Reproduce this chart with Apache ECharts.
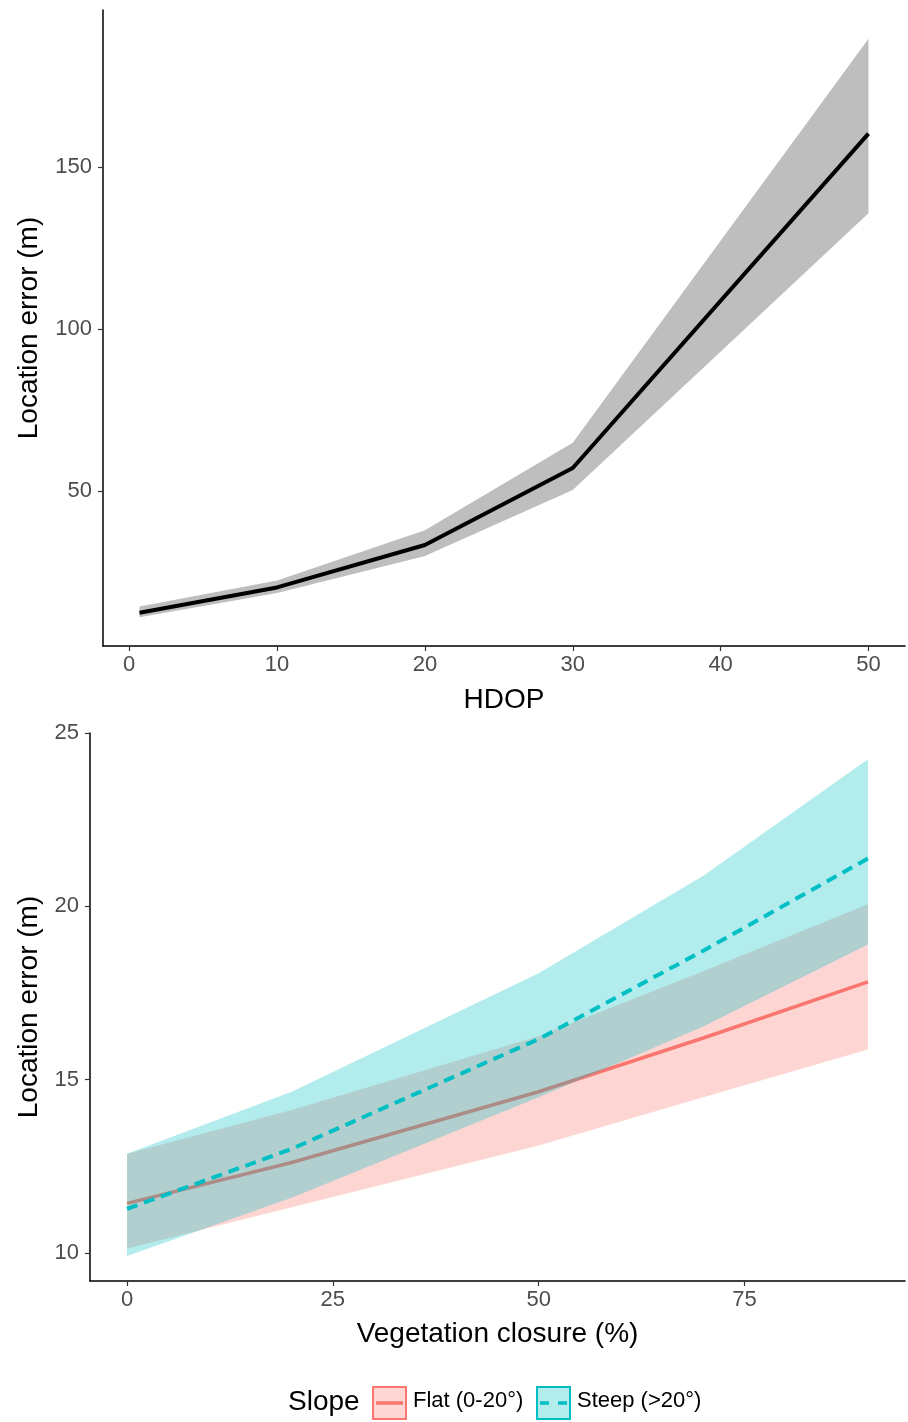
<!DOCTYPE html>
<html>
<head>
<meta charset="utf-8">
<script src="https://cdn.jsdelivr.net/npm/echarts@6/dist/echarts.min.js"></script>
<style>
  html, body { margin: 0; padding: 0; background: #fff; }
  #chart { width: 908px; height: 1422px; }
</style>
</head>
<body>
<div id="chart"></div>
<script>
// top panel: location error vs HDOP
const hdop = [0.7, 10, 20, 30, 50];
const hdopFit = [12.4, 20.2, 33.3, 57.1, 160.4];
const hdopLower = [11.0, 18.5, 29.9, 50.3, 135.8];
const hdopUpper = [14.3, 22.3, 37.9, 64.9, 189.7];
const hdopTicks = [0, 10, 20, 30, 40, 50];
const hdopErrTicks = [50, 100, 150];

// bottom panel: location error vs vegetation closure, by slope
const veg = [0, 20, 50, 70, 90];
const flatFit = [11.43, 12.61, 14.65, 16.2, 17.82];
const flatLower = [10.13, 11.32, 13.1, 14.49, 15.87];
const flatUpper = [12.86, 14.12, 16.25, 18.13, 20.06];
const steepFit = [11.27, 13.0, 16.17, 18.72, 21.38];
const steepLower = [9.91, 11.59, 14.49, 16.53, 18.9];
const steepUpper = [12.86, 14.65, 18.07, 20.88, 24.24];
const vegTicks = [0, 25, 50, 75];
const vegErrTicks = [10, 15, 20, 25];

const FONT = "'Liberation Sans', Arial, sans-serif";
const RED = '#F8766D';
const TEAL = '#00BFC4';

function pairs(xs, ys) {
  return xs.map((x, i) => [x, ys[i]]);
}

// ribbon drawn as one polygon through the axis scales
function ribbon(xs, lo, hi, gridIdx, color, z) {
  return {
    type: 'custom',
    xAxisIndex: gridIdx,
    yAxisIndex: gridIdx,
    z: z,
    silent: true,
    data: xs.map((x, i) => [x, lo[i], hi[i]]),
    renderItem: (params, api) => {
      if (params.dataIndex !== 0) return null;
      const top = xs.map((x, i) => api.coord([x, hi[i]]));
      const bot = xs.map((x, i) => api.coord([x, lo[i]])).reverse();
      return {
        type: 'polygon',
        shape: { points: top.concat(bot) },
        style: { fill: color }
      };
    }
  };
}

function xAxisOf(grid, min, max, ticks, name, gap) {
  return {
    type: 'value', gridIndex: grid, min: min, max: max,
    name: name, nameLocation: 'middle', nameGap: gap,
    nameTextStyle: { fontFamily: FONT, fontSize: 28, color: '#000' },
    axisLine: { onZero: false, lineStyle: { color: '#000', width: 1.5 } },
    axisTick: { customValues: ticks, length: 5, lineStyle: { color: '#333', width: 1.2 } },
    axisLabel: { customValues: ticks, fontFamily: FONT, fontSize: 22, color: '#4D4D4D', margin: 8 },
    splitLine: { show: false }
  };
}

function yAxisOf(grid, min, max, ticks, gap) {
  return {
    type: 'value', gridIndex: grid, min: min, max: max,
    name: 'Location error (m)', nameLocation: 'middle', nameGap: gap,
    nameTextStyle: { fontFamily: FONT, fontSize: 28, color: '#000' },
    axisLine: { show: true, onZero: false, lineStyle: { color: '#000', width: 1.5 } },
    axisTick: { show: true, customValues: ticks, length: 5, lineStyle: { color: '#333', width: 1.2 } },
    axisLabel: { customValues: ticks, fontFamily: FONT, fontSize: 22, color: '#4D4D4D', margin: 11 },
    splitLine: { show: false }
  };
}

const chart = echarts.init(document.getElementById('chart'));

const option = {
  backgroundColor: '#fff',
  animation: false,
  grid: [
    { left: 103, right: 3, top: 10, bottom: 776 },
    { left: 90, right: 3, top: 733, bottom: 141 }
  ],
  xAxis: [
    xAxisOf(0, -1.77, 52.47, hdopTicks, 'HDOP', 40),
    xAxisOf(1, -4.5, 94.5, vegTicks, 'Vegetation closure (%)', 39)
  ],
  yAxis: [
    yAxisOf(0, 2.1, 198.6, hdopErrTicks, 60),
    yAxisOf(1, 9.19, 25, vegErrTicks, 47)
  ],
  series: [
    ribbon(hdop, hdopLower, hdopUpper, 0, '#BEBEBE', 1),
    {
      type: 'line', xAxisIndex: 0, yAxisIndex: 0, z: 2,
      data: pairs(hdop, hdopFit), symbol: 'none',
      lineStyle: { color: '#000', width: 4 }
    },
    ribbon(veg, flatLower, flatUpper, 1, 'rgba(248,118,109,0.3)', 1),
    {
      name: 'Flat (0-20°)', type: 'line', xAxisIndex: 1, yAxisIndex: 1, z: 2,
      data: pairs(veg, flatFit), symbol: 'none',
      lineStyle: { color: RED, width: 3.5 }
    },
    ribbon(veg, steepLower, steepUpper, 1, 'rgba(0,191,196,0.3)', 3),
    {
      name: 'Steep (>20°)', type: 'line', xAxisIndex: 1, yAxisIndex: 1, z: 4,
      data: pairs(veg, steepFit), symbol: 'none',
      lineStyle: { color: TEAL, width: 4, type: [11, 7] }
    }
  ],
  graphic: [
    { type: 'text', left: 288, top: 1388,
      style: { text: 'Slope', font: '28px ' + FONT, fill: '#000' } },
    { type: 'rect', shape: { x: 373, y: 1387, width: 33, height: 32 },
      style: { fill: 'rgba(248,118,109,0.3)', stroke: RED, lineWidth: 2 } },
    { type: 'line', shape: { x1: 376, y1: 1403, x2: 403, y2: 1403 },
      style: { stroke: RED, lineWidth: 3.5 } },
    { type: 'text', left: 413, top: 1390,
      style: { text: 'Flat (0-20°)', font: '22px ' + FONT, fill: '#000' } },
    { type: 'rect', shape: { x: 537, y: 1387, width: 33, height: 32 },
      style: { fill: 'rgba(0,191,196,0.3)', stroke: TEAL, lineWidth: 2 } },
    { type: 'line', shape: { x1: 540, y1: 1403, x2: 567, y2: 1403 },
      style: { stroke: TEAL, lineWidth: 3.5, lineDash: [9, 9] } },
    { type: 'text', left: 577, top: 1390,
      style: { text: 'Steep (>20°)', font: '22px ' + FONT, fill: '#000' } }
  ]
};

chart.setOption(option);
</script>
</body>
</html>
